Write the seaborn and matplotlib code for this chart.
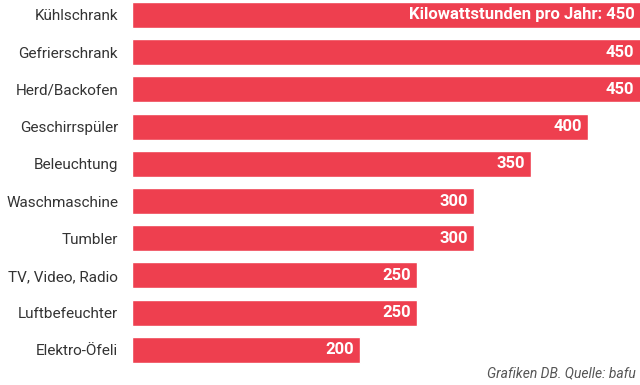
import pandas as pd
import numpy as np
import seaborn as sns
import matplotlib.pyplot as plt

# data

geraete = ['Kühlschrank', 'Gefrierschrank', 'Herd/Backofen', 'Geschirrspüler', 'Beleuchtung',
           'Waschmaschine', 'Tumbler', 'TV, Video, Radio', 'Luftbefeuchter', 'Elektro-Öfeli']
kwh = [450, 450, 450, 400, 350, 300, 300, 250, 250, 200]

df = pd.DataFrame({'geraet': geraete, 'kwh': kwh})

sns.set_style('white')
plt.rcParams['font.family'] = ['Roboto', 'DejaVu Sans']

fig = plt.figure(figsize=(6.4, 3.85), dpi=100)
ax = fig.add_axes([132 / 640, 18 / 385, 1 - 132 / 640, 367 / 385])

sns.barplot(data=df, x='kwh', y='geraet', orient='h', color='#ee3f4f',
            width=0.7, saturation=1, ax=ax)

xmax = 445.6
ax.set_xlim(0, xmax)
ax.set_ylim(9.46, -0.403)
ax.set_xlabel('')
ax.set_ylabel('')
ax.set_xticks([])
ax.tick_params(axis='y', length=0, pad=10, labelsize=11, labelcolor='#333333')
sns.despine(ax=ax, left=True, bottom=True, right=True, top=True)

# value labels in the bars

for i, v in enumerate(kwh):
    txt = str(v) if i > 0 else 'Kilowattstunden pro Jahr: ' + str(v)
    ax.text(min(v, xmax) - 5, i, txt, ha='right', va='center', color='white',
            fontsize=12, fontweight='bold')

fig.text(636 / 640, 1 - 373 / 385, 'Grafiken DB. Quelle: bafu', ha='right', va='center',
         fontsize=10, style='italic', color='#555555')

plt.savefig('out.png', dpi=100)
